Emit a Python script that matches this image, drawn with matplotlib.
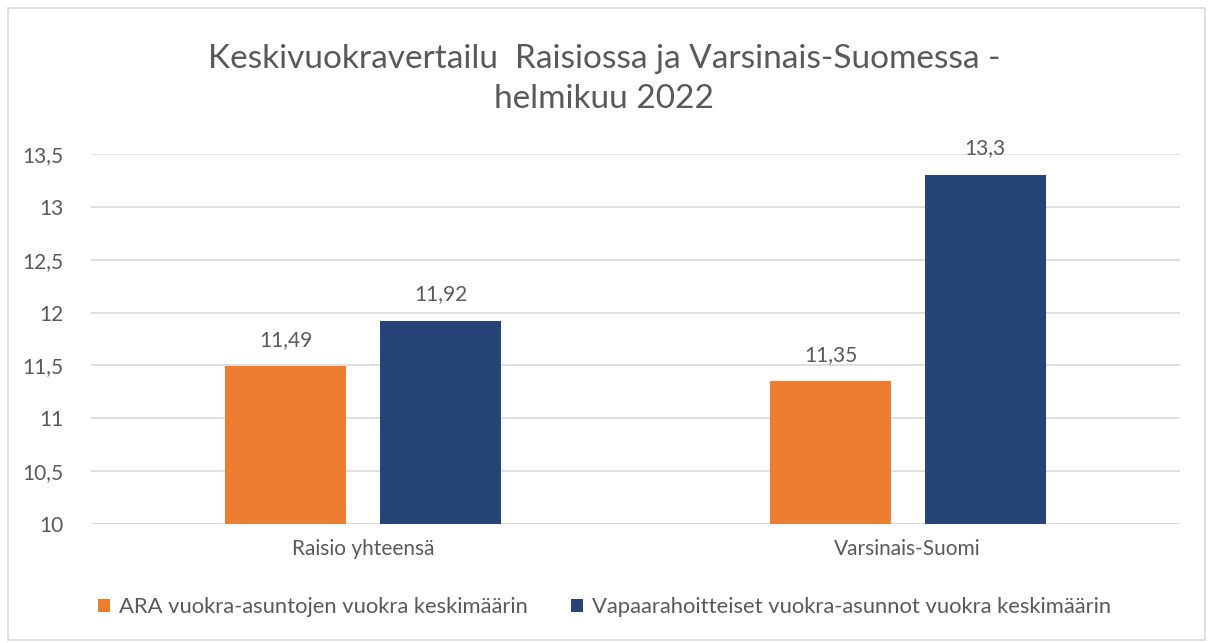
import numpy as np
import matplotlib
matplotlib.use("Agg")
import matplotlib.pyplot as plt
from matplotlib.patches import Rectangle
from matplotlib.ticker import FuncFormatter

categories = ["Raisio yhteensä", "Varsinais-Suomi"]
series_names = ["ARA vuokra-asuntojen vuokra keskimäärin",
                "Vapaarahoitteiset vuokra-asunnot vuokra keskimäärin"]
ara_values = [11.49, 11.35]
free_values = [11.92, 13.3]
ara_labels = ["11,49", "11,35"]
free_labels = ["11,92", "13,3"]
yticks = [10, 10.5, 11, 11.5, 12, 12.5, 13, 13.5]

ORANGE = "#ED7D31"
BLUE = "#264478"
TEXT = "#595959"

plt.rcParams['font.family'] = ['Lato', 'DejaVu Sans']

fig = plt.figure(figsize=(12.09, 6.43), dpi=100)
fig.patches.append(Rectangle((8 / 1209, 3 / 643), 1197 / 1209, 632 / 643,
                             transform=fig.transFigure, fill=False,
                             edgecolor="#D9D9D9", linewidth=1.2))

ax = fig.add_axes([91 / 1209, 1 - 524 / 643, 1089 / 1209, 370 / 643])

x = np.arange(len(categories))
w = 0.222
off = 0.142
b1 = ax.bar(x - off, np.array(ara_values) - 10, w, bottom=10, color=ORANGE,
            label=series_names[0], zorder=3)
b2 = ax.bar(x + off, np.array(free_values) - 10, w, bottom=10, color=BLUE,
            label=series_names[1], zorder=3)

for bars, vals, labs in [(b1, ara_values, ara_labels), (b2, free_values, free_labels)]:
    for rect, v, lab in zip(bars, vals, labs):
        ax.annotate(lab, (rect.get_x() + rect.get_width() / 2, v),
                    xytext=(0, 12), textcoords="offset points",
                    ha="center", va="bottom", fontsize=15, color=TEXT)

ax.set_xlim(-0.5, 1.5)
ax.set_ylim(10, 13.5)
ax.set_yticks(yticks)
ax.yaxis.set_major_formatter(FuncFormatter(lambda v, p: ("%g" % v).replace(".", ",")))
ax.set_xticks(x)
ax.set_xticklabels(categories)
ax.tick_params(axis="both", length=0, labelsize=15, colors=TEXT)
ax.tick_params(axis="y", pad=20)
ax.tick_params(axis="x", pad=11)
ax.grid(axis="y", color="#D9D9D9", linewidth=1.2, zorder=0)
for s in ax.spines.values():
    s.set_visible(False)

fig.text(0.5, 1 - 79 / 643, "Keskivuokravertailu  Raisiossa ja Varsinais-Suomessa -\nhelmikuu 2022",
         ha="center", va="center", fontsize=24, color=TEXT, linespacing=1.45)

fig.legend(handles=[b1, b2], loc="center", bbox_to_anchor=(0.5, 1 - 607 / 643),
           ncol=2, frameon=False, fontsize=15.8, labelcolor=TEXT,
           handlelength=0.55, handleheight=0.55, handletextpad=0.4, columnspacing=2.0)

fig.savefig("out.png", dpi=100)
